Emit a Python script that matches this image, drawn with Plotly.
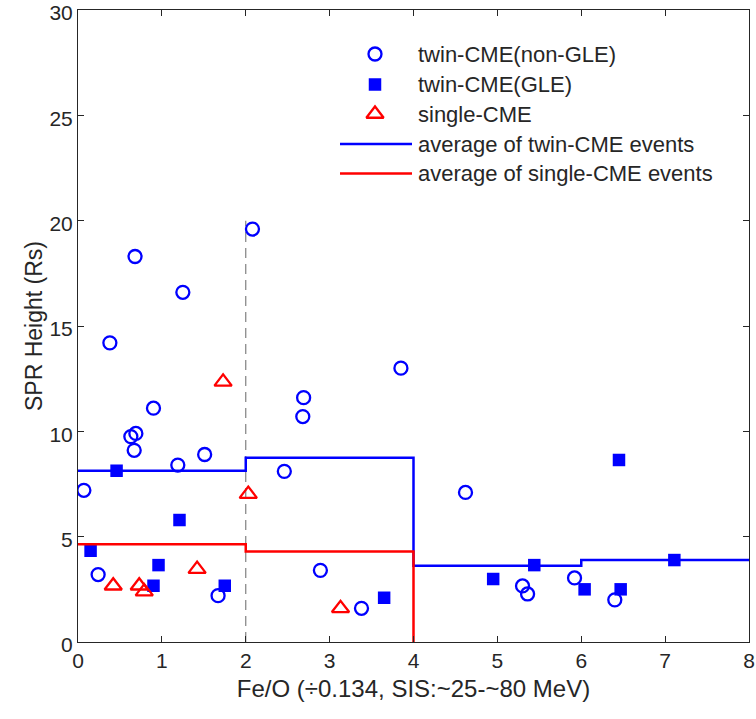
import plotly.graph_objects as go

# --- data ---
nongle_x = [0.07, 0.24, 0.38, 0.68, 0.63, 0.69, 0.67, 0.90, 1.19, 1.25, 1.51, 1.67,
            2.08, 2.46, 2.69, 2.68, 2.89, 3.38, 3.85, 4.62, 5.30, 5.36, 5.92, 6.40]
nongle_y = [7.2, 3.2, 14.2, 18.3, 9.75, 9.9, 9.1, 11.1, 8.4, 16.6, 8.9, 2.2,
            19.6, 8.1, 11.6, 10.7, 3.4, 1.6, 13.0, 7.1, 2.66, 2.28, 3.04, 2.0]

gle_x = [0.46, 0.15, 1.21, 0.96, 0.90, 1.75, 3.65, 4.95, 5.44, 6.04, 6.45, 6.47, 7.11]
gle_y = [8.13, 4.33, 5.79, 3.65, 2.67, 2.67, 2.10, 2.99, 3.65, 2.50, 8.64, 2.50, 3.89]

single_x = [1.73, 2.03, 0.42, 0.73, 0.79, 1.42, 3.13]
single_y = [12.35, 7.02, 2.67, 2.67, 2.39, 3.46, 1.60]

bin_edges = [0, 2, 4, 6, 8]
twin_avg = [8.13, 8.75, 3.62, 3.89]
single_edges = [0, 2, 4]
single_avg = [4.64, 4.29]

divider_x = [2, 2]
divider_y = [0, 20]

x_ticks = [0, 1, 2, 3, 4, 5, 6, 7, 8]
y_ticks = [0, 5, 10, 15, 20, 25, 30]

legend_labels = ["twin-CME(non-GLE)", "twin-CME(GLE)", "single-CME",
                 "average of twin-CME events", "average of single-CME events"]

BLUE = "rgb(0,0,255)"
RED = "rgb(255,0,0)"
AX = "#262626"
FONT = "Liberation Sans, Arial, sans-serif"

W, H = 756, 719
ML, MR, MT, MB = 78, 7, 10, 77
PW, PH = W - ML - MR, H - MT - MB


def px_x(p):
    return (p - ML) / PW


def px_y(p):
    return (H - MB - p) / PH


circle_m = dict(symbol="circle-open", size=13, color=BLUE, line=dict(width=2.3, color=BLUE))
square_m = dict(symbol="square", size=12.5, color=BLUE, line=dict(width=0))
tri_m = dict(symbol="triangle-up-open", size=15, color=RED, line=dict(width=2.3, color=RED))

fig = go.Figure()

fig.add_trace(go.Scatter(
    x=divider_x, y=divider_y, mode="lines", showlegend=False, hoverinfo="skip",
    line=dict(color="#808080", width=1.2, dash="10px,6px")))

fig.add_trace(go.Scatter(x=nongle_x, y=nongle_y, mode="markers", name=legend_labels[0],
                         showlegend=False, marker=circle_m))
fig.add_trace(go.Scatter(x=gle_x, y=gle_y, mode="markers", name=legend_labels[1],
                         showlegend=False, marker=square_m))
fig.add_trace(go.Scatter(x=single_x, y=single_y, mode="markers", name=legend_labels[2],
                         showlegend=False, marker=tri_m))

fig.add_trace(go.Scatter(
    x=bin_edges, y=twin_avg + [twin_avg[-1]], mode="lines", line_shape="hv",
    name=legend_labels[3], showlegend=False, line=dict(color=BLUE, width=2.5)))
fig.add_trace(go.Scatter(
    x=single_edges, y=single_avg + [0], mode="lines", line_shape="hv",
    name=legend_labels[4], showlegend=False, line=dict(color=RED, width=2.5)))

# --- hand-built legend (placed in plot-fraction coordinates) ---
row_py = [54, 84.5, 114, 144, 173.5]
sym_cx = px_x(375)
line_x0, line_x1 = px_x(340), px_x(412)
text_x = px_x(416)

for m, py in zip([circle_m, square_m, tri_m], row_py[:3]):
    fig.add_trace(go.Scatter(x=[sym_cx], y=[px_y(py)], mode="markers", marker=m,
                             xaxis="x2", yaxis="y2", showlegend=False, hoverinfo="skip"))
for col, py in zip([BLUE, RED], row_py[3:]):
    fig.add_shape(type="line", xref="paper", yref="paper",
                  x0=line_x0, x1=line_x1, y0=px_y(py), y1=px_y(py),
                  line=dict(color=col, width=2.5))
for lab, py in zip(legend_labels, row_py):
    fig.add_annotation(text=lab, xref="paper", yref="paper", x=text_x, y=px_y(py),
                       xanchor="left", yanchor="middle", showarrow=False,
                       font=dict(family=FONT, size=22, color=AX))

axis_common = dict(
    showgrid=False, zeroline=False, showline=True, linecolor=AX, linewidth=1,
    mirror="ticks", ticks="inside", ticklen=6, tickwidth=1, tickcolor=AX,
    tickfont=dict(family=FONT, size=21, color=AX), automargin=False,
    ticklabeloverflow="allow",
)

fig.update_xaxes(range=[0, 8], tickvals=x_ticks,
                 title=dict(text="Fe/O (÷0.134, SIS:~25-~80 MeV)",
                            font=dict(family=FONT, size=24, color=AX), standoff=8),
                 **axis_common)
fig.update_yaxes(range=[0, 30], tickvals=y_ticks, ticklabelshift=3,
                 title=dict(text="SPR Height (Rs)",
                            font=dict(family=FONT, size=23, color=AX), standoff=0),
                 **axis_common)

fig.update_layout(
    width=W, height=H,
    margin=dict(l=ML, r=MR, t=MT, b=MB),
    paper_bgcolor="white", plot_bgcolor="white",
    font=dict(family=FONT, size=21, color=AX),
    showlegend=False,
    xaxis2=dict(overlaying="x", range=[0, 1], visible=False, fixedrange=True),
    yaxis2=dict(overlaying="y", range=[0, 1], visible=False, fixedrange=True),
)

fig.write_html("out.html")
